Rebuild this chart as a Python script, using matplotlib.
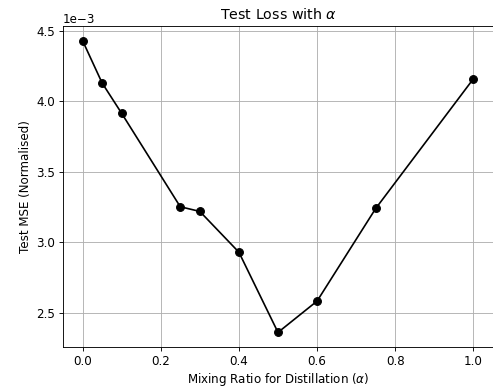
import matplotlib
matplotlib.use("Agg")
import matplotlib.pyplot as plt

# Mixing ratio vs normalised test MSE
alpha = [0.0, 0.05, 0.1, 0.25, 0.3, 0.4, 0.5, 0.6, 0.75, 1.0]
test_mse = [4.43e-3, 4.13e-3, 3.915e-3, 3.253e-3, 3.22e-3, 2.931e-3,
            2.363e-3, 2.585e-3, 3.241e-3, 4.16e-3]

plt.rcParams["font.size"] = 10.7

dpi = 80
fig = plt.figure(figsize=(493 / dpi, 387 / dpi), dpi=dpi)
ax = fig.add_axes([63 / 493, 1 - 347 / 387, 430 / 493, 321 / 387])

ax.plot(alpha, test_mse, color="black", marker="o", markersize=7)
ax.set_xlabel(r"Mixing Ratio for Distillation ($\alpha$)", labelpad=3)
ax.set_ylabel("Test MSE (Normalised)")
ax.set_title(r"Test Loss with $\alpha$")
ax.ticklabel_format(axis="y", style="sci", scilimits=(-3, -3))
ax.grid(True)

fig.savefig("out.png", dpi=dpi)
